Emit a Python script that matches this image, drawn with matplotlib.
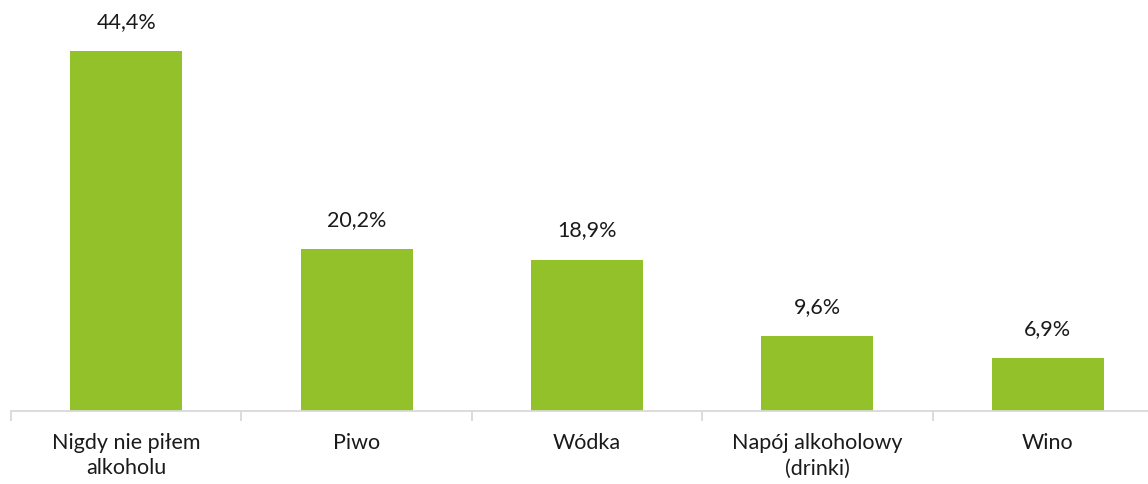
import matplotlib
matplotlib.use("Agg")
import matplotlib.pyplot as plt
import numpy as np

categories = ["Nigdy nie piłem\nalkoholu", "Piwo", "Wódka", "Napój alkoholowy\n(drinki)", "Wino"]
values = [44.4, 20.2, 18.9, 9.6, 6.9]
value_labels = ["44,4%", "20,2%", "18,9%", "9,6%", "6,9%"]

plt.rcParams["font.family"] = ["Lato", "DejaVu Sans"]

fig = plt.figure(figsize=(11.48, 4.84), dpi=100)
# axes spans 5 category slots; right edge runs past the figure border
axis_y = 410.5
top_y = 6.0
left = 11 / 1148
width = (5 * 230.4) / 1148
bottom = (484 - axis_y) / 484
height = (axis_y - top_y) / 484
ax = fig.add_axes([left, bottom, width, height])

x = np.arange(len(categories))
bar_color = "#93C12A"
ax.bar(x, values, width=0.486, color=bar_color, zorder=2)

px_per_unit = 8.18
y_low = 3.8 / px_per_unit
ax.set_xlim(-0.5, len(categories) - 0.5)
ax.set_ylim(y_low, y_low + (axis_y - top_y) / px_per_unit)

for xi, v, lab in zip(x, values, value_labels):
    ax.annotate(lab, (xi, v), xytext=(0, 21), textcoords="offset points",
                ha="center", va="center", fontsize=15.5, color="#1a1a1a")

for side in ["left", "right", "top"]:
    ax.spines[side].set_visible(False)
ax.spines["bottom"].set_color("#D9D9D9")
ax.spines["bottom"].set_linewidth(1.3)
ax.spines["bottom"].set_zorder(3)

ax.set_yticks([])
ax.set_xticks(x)
ax.set_xticklabels(categories, fontsize=15.5, color="#1a1a1a", linespacing=1.36)
ax.tick_params(axis="x", which="major", length=0, pad=16)
ax.set_xticks(np.arange(-0.5, len(categories)), minor=True)
ax.tick_params(axis="x", which="minor", length=7, color="#D9D9D9", width=1.3)

fig.savefig("out.png", dpi=100)
